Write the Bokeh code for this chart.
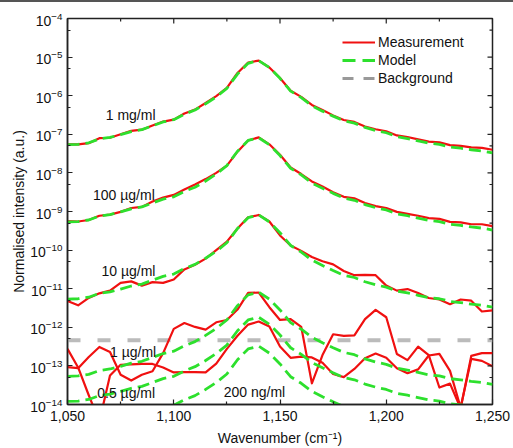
import math
from bokeh.plotting import figure
from bokeh.models import (FixedTicker, NumeralTickFormatter,
                          Legend, LegendItem, Range1d, Div, ColumnDataSource)
from bokeh.layouts import column
from bokeh.embed import file_html
from bokeh.resources import INLINE
from bokeh.core.properties import value

# ---------------- data (intensities given as log10 values) ----------------
wavenumber = [1050, 1055, 1060, 1065, 1070, 1075, 1080, 1085, 1090, 1095,
              1100, 1105, 1110, 1115, 1120, 1125, 1130, 1135, 1140, 1145,
              1150, 1155, 1160, 1165, 1170, 1175, 1180, 1185, 1190, 1195,
              1200, 1205, 1210, 1215, 1220, 1225, 1230, 1235, 1240, 1245, 1250]

meas_1mg_log = [-7.26, -7.26, -7.23, -7.10, -7.09, -7.00, -6.91, -6.88, -6.77, -6.67,
                -6.62, -6.46, -6.36, -6.19, -6.01, -5.80, -5.41, -5.14, -5.09, -5.27,
                -5.54, -5.87, -6.03, -6.24, -6.37, -6.51, -6.63, -6.68, -6.80, -6.87,
                -6.92, -7.03, -7.07, -7.13, -7.19, -7.21, -7.28, -7.30, -7.34, -7.35, -7.40]

meas_100ug_log = [-9.25, -9.26, -9.22, -9.11, -9.08, -9.01, -8.91, -8.88, -8.74, -8.64,
                  -8.57, -8.43, -8.30, -8.16, -8.00, -7.81, -7.45, -7.16, -7.08, -7.26,
                  -7.53, -7.86, -8.03, -8.22, -8.35, -8.50, -8.62, -8.66, -8.78, -8.86,
                  -8.91, -9.01, -9.06, -9.11, -9.17, -9.19, -9.27, -9.28, -9.33, -9.33, -9.38]

meas_10ug_log = [-11.32, -11.43, -11.24, -11.12, -11.05, -10.85, -10.81, -10.92, -10.83, -10.85,
                 -10.76, -10.50, -10.38, -10.22, -10.00, -9.78, -9.44, -9.15, -9.09, -9.26,
                 -9.62, -9.88, -10.02, -10.18, -10.29, -10.37, -10.54, -10.65, -10.64, -10.65,
                 -10.92, -11.05, -11.01, -11.11, -11.24, -11.28, -11.40, -11.28, -11.31, -11.59, -11.56]

meas_1ug_log = [-13.03, -13.06, -12.77, -12.51, -12.64, -13.23, -13.38, -13.23, -13.14, -12.67,
                -12.04, -11.89, -11.99, -12.06, -11.87, -11.81, -11.54, -11.11, -11.10, -11.48,
                -11.81, -11.79, -11.99, -13.45, -12.72, -12.18, -12.22, -12.21, -11.79, -11.55,
                -11.74, -12.69, -12.85, -12.50, -12.72, -13.56, -13.46, -14.10, -12.74, -12.67, -12.67]

meas_05ug_log = [-12.56, -13.04, -13.76, -14.44, -13.25, -12.97, -12.96, -12.95, -12.95, -13.04,
                 -13.17, -13.16, -13.16, -13.17, -12.94, -12.56, -12.22, -11.93, -11.85, -11.98,
                 -12.50, -12.79, -12.76, -12.78, -12.92, -13.21, -13.29, -13.08, -12.80, -12.68,
                 -12.79, -13.06, -13.19, -13.09, -12.73, -12.69, -13.13, -14.08, -12.82, -12.87, -13.01]

# model spectrum for 1 mg/ml; the other model curves are the same spectrum shifted by the
# number of decades for each concentration
model_1mg_log = [-7.27, -7.26, -7.22, -7.12, -7.08, -7.01, -6.93, -6.88, -6.78, -6.68,
                 -6.62, -6.48, -6.37, -6.21, -6.03, -5.81, -5.44, -5.16, -5.09, -5.27,
                 -5.55, -5.88, -6.05, -6.26, -6.40, -6.53, -6.65, -6.71, -6.82, -6.90,
                 -6.96, -7.06, -7.11, -7.17, -7.23, -7.26, -7.33, -7.36, -7.40, -7.43, -7.48]
model_concentrations = ["1 mg/ml", "100 \u00b5g/ml", "10 \u00b5g/ml", "1 \u00b5g/ml", "0.5 \u00b5g/ml", "200 ng/ml"]
model_shift_decades = [0.0, -2.0, -4.0, -6.0, -6.65, -7.4]

background_level = 4.6e-13

curve_labels = ["1 mg/ml", "100 \u00b5g/ml", "10 \u00b5g/ml", "1 \u00b5g/ml", "0.5 \u00b5g/ml", "200 ng/ml"]

y_major = [1e-14, 1e-13, 1e-12, 1e-11, 1e-10, 1e-9, 1e-8, 1e-7, 1e-6, 1e-5, 1e-4]
y_minor = [5e-15, 5e-14, 5e-13, 5e-12, 5e-11, 5e-10, 5e-9, 5e-8, 5e-7, 5e-6, 5e-5]
x_major = [1050, 1100, 1150, 1200, 1250]
x_minor = [1075, 1125, 1175, 1225]

# ---------------- styling / positions ----------------
FONT = "Liberation Sans"
RED = "#f01010"
GREEN = "#2de02d"
GRAY = "#bbbbbb"
INK = "#222222"
label_pos_x = [1068, 1062, 1066, 1070, 1064, 1123.5]
label_pos_y = [3.1e-7, 2.6e-9, 2.9e-11, 2.3e-13, 1.95e-14, 2.15e-14]

def to_lin(vals):
    return [10.0 ** v for v in vals]

X0, X1 = 1050, 1250
Y0, Y1 = 1e-14, 1e-4
NAN = float("nan")

p = figure(width=513, height=446, x_range=Range1d(X0, X1), y_range=Range1d(Y0, Y1),
           y_axis_type="log", output_backend="svg", toolbar_location=None,
           min_border_left=67, min_border_right=21, min_border_top=16, min_border_bottom=40,
           background_fill_color="white", border_fill_color="white")
p.grid.visible = False
p.outline_line_color = INK
p.outline_line_width = 1.5

# background
bg = p.line([wavenumber[0], wavenumber[-1]], [background_level, background_level],
            line_color=GRAY, line_width=4, line_dash="13 17")

# measurements
meas_renderers = []
for arr in [meas_1mg_log, meas_100ug_log, meas_10ug_log, meas_1ug_log, meas_05ug_log]:
    r = p.line(wavenumber, to_lin(arr), line_color=RED, line_width=2.2, line_join="round")
    meas_renderers.append(r)

# models
model_renderers = []
for shift in model_shift_decades:
    r = p.line(wavenumber, to_lin([v + shift for v in model_1mg_log]), line_color=GREEN,
               line_width=2.8, line_dash="12 6")
    model_renderers.append(r)

# legend-only swatches (a single undrawn point) so the key dashes match the reference key
key_meas = p.line([X0], [NAN], line_color=RED, line_width=2.2)
key_model = p.line([X0], [NAN], line_color=GREEN, line_width=2.8, line_dash="13 7")
key_bg = p.line([X0], [NAN], line_color="#999999", line_width=3, line_dash="11 10")

# curve labels
src = ColumnDataSource(dict(x=label_pos_x, y=label_pos_y, t=curve_labels))
p.text(x="x", y="y", text="t", source=src, text_font=value(FONT), text_font_size="14px",
       text_baseline="middle", text_align="left", text_color="#111111")

# mirrored inward ticks on the top and right frame edges (dash markers clipped by the frame)
p.scatter(x_major, [Y1] * len(x_major), marker="dash", size=10, angle=math.pi / 2,
          line_color=INK, line_width=1.2)
p.scatter(x_minor, [Y1] * len(x_minor), marker="dash", size=6, angle=math.pi / 2,
          line_color=INK, line_width=1.2)
p.scatter([X1] * len(y_major), y_major, marker="dash", size=10,
          line_color=INK, line_width=1.2)
p.scatter([X1] * len(y_minor), y_minor, marker="dash", size=6,
          line_color=INK, line_width=1.2)

# axes
def style_axis(ax):
    ax.axis_line_color = INK
    ax.axis_line_width = 1.5
    ax.major_tick_in = 5
    ax.major_tick_out = 0
    ax.minor_tick_in = 3
    ax.minor_tick_out = 0
    ax.major_tick_line_color = INK
    ax.minor_tick_line_color = INK
    ax.major_tick_line_width = 1.2
    ax.minor_tick_line_width = 1.2
    ax.major_label_text_font = FONT
    ax.major_label_text_font_size = "14px"
    ax.major_label_text_color = "#111111"
    ax.axis_label_text_font = FONT
    ax.axis_label_text_font_size = "14px"
    ax.axis_label_text_font_style = "normal"
    ax.axis_label_text_color = "#111111"

xax = p.xaxis[0]
xax.ticker = FixedTicker(ticks=x_major, minor_ticks=x_minor)
xax.formatter = NumeralTickFormatter(format="0,0")
xax.axis_label = "Wavenumber (cm\u207b\u00b9)"
style_axis(xax)
xax.major_label_standoff = 6
xax.axis_label_standoff = 6

yax = p.yaxis[0]
yax.ticker = FixedTicker(ticks=y_major, minor_ticks=y_minor)
yax.axis_label = "Normalised intensity (a.u.)"
style_axis(yax)
yax.major_label_standoff = 5
yax.axis_label_standoff = 0

legend = Legend(items=[LegendItem(label="Measurement", renderers=[key_meas]),
                       LegendItem(label="Model", renderers=[key_model]),
                       LegendItem(label="Background", renderers=[key_bg])],
                location=(275, 318))
legend.label_text_font = FONT
legend.label_text_font_size = "14px"
legend.label_text_color = "#111111"
legend.glyph_width = 33
legend.glyph_height = 16
legend.label_height = 16
legend.label_standoff = 3
legend.spacing = 2
legend.padding = 0
legend.margin = 0
legend.background_fill_alpha = 0
legend.border_line_color = None
p.add_layout(legend)

rule = Div(text="", width=513, height=2, margin=(0, 0, 0, 0),
           styles={"background-color": "#555555"})
layout = column(rule, p, spacing=0)

open("out.html", "w").write(file_html(layout, INLINE))
